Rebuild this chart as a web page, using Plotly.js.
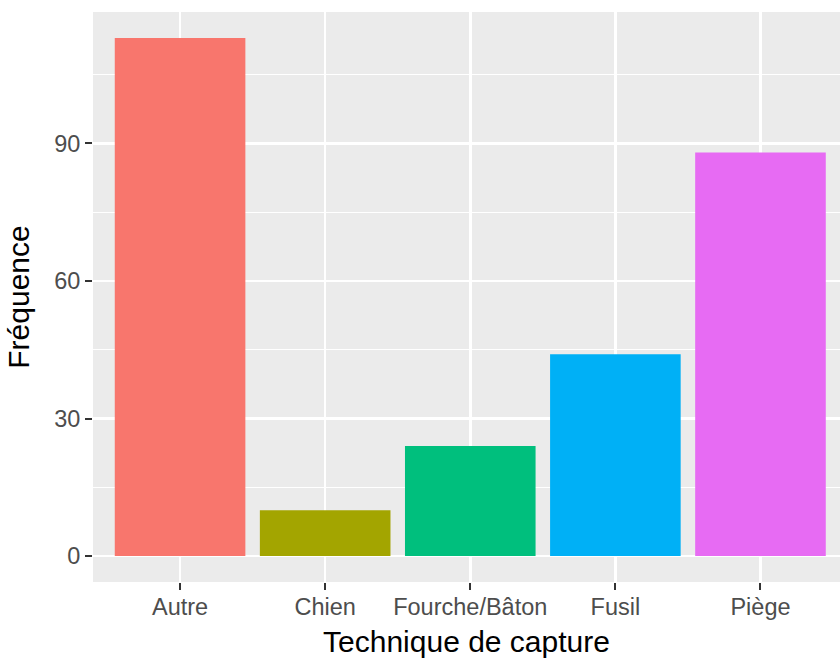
<!DOCTYPE html>
<html>
<head>
<meta charset="utf-8">
<script src="https://cdn.plot.ly/plotly-3.0.1.min.js"></script>
<style>html,body{margin:0;padding:0;background:#fff;}#chart{width:840px;height:660px;}</style>
</head>
<body>
<div id="chart"></div>
<script>
var categories = ["Autre", "Chien", "Fourche/Bâton", "Fusil", "Piège"];
var frequencies = [113, 10, 24, 44, 88];
var yTickValues = [0, 30, 60, 90];
var yMinorValues = [15, 45, 75, 105];
var palette = ["#F8766D", "#A3A500", "#00BF7D", "#00B0F6", "#E76BF3"];

var trace = {
  type: "bar",
  x: categories,
  y: frequencies,
  width: 0.9,
  marker: {color: palette, line: {width: 0}},
  hoverinfo: "x+y"
};

var layout = {
  width: 840, height: 660,
  margin: {l: 93, r: 0, t: 12, b: 78, pad: 0},
  paper_bgcolor: "#FFFFFF",
  plot_bgcolor: "#EBEBEB",
  font: {family: "Liberation Sans, Arial, sans-serif", color: "#4D4D4D"},
  showlegend: false,
  bargap: 0.1,
  xaxis: {
    type: "category",
    range: [-0.6, 4.548],
    showgrid: true, gridcolor: "#FFFFFF", gridwidth: 2.6,
    zeroline: false, showline: false,
    ticks: "outside", ticklen: 7, tickwidth: 2, tickcolor: "#333333",
    ticklabelstandoff: -3,
    tickfont: {size: 23.5, color: "#4D4D4D"},
    title: {text: "Technique de capture", font: {size: 30, color: "#000000"}, standoff: 11},
    automargin: false, fixedrange: true
  },
  yaxis: {
    range: [-5.65, 118.65],
    tickmode: "array", tickvals: yTickValues,
    showgrid: true, gridcolor: "#FFFFFF", gridwidth: 2.6,
    minor: {tickmode: "array", tickvals: yMinorValues, showgrid: true, gridcolor: "#FFFFFF", gridwidth: 1.3, ticks: ""},
    zeroline: false, showline: false,
    ticks: "outside", ticklen: 7, tickwidth: 2, tickcolor: "#333333",
    tickfont: {size: 23.5, color: "#4D4D4D"},
    title: {text: "Fréquence", font: {size: 30, color: "#000000"}, standoff: 15},
    automargin: false, fixedrange: true
  }
};

Plotly.newPlot("chart", [trace], layout, {displayModeBar: false, staticPlot: true});
</script>
</body>
</html>
